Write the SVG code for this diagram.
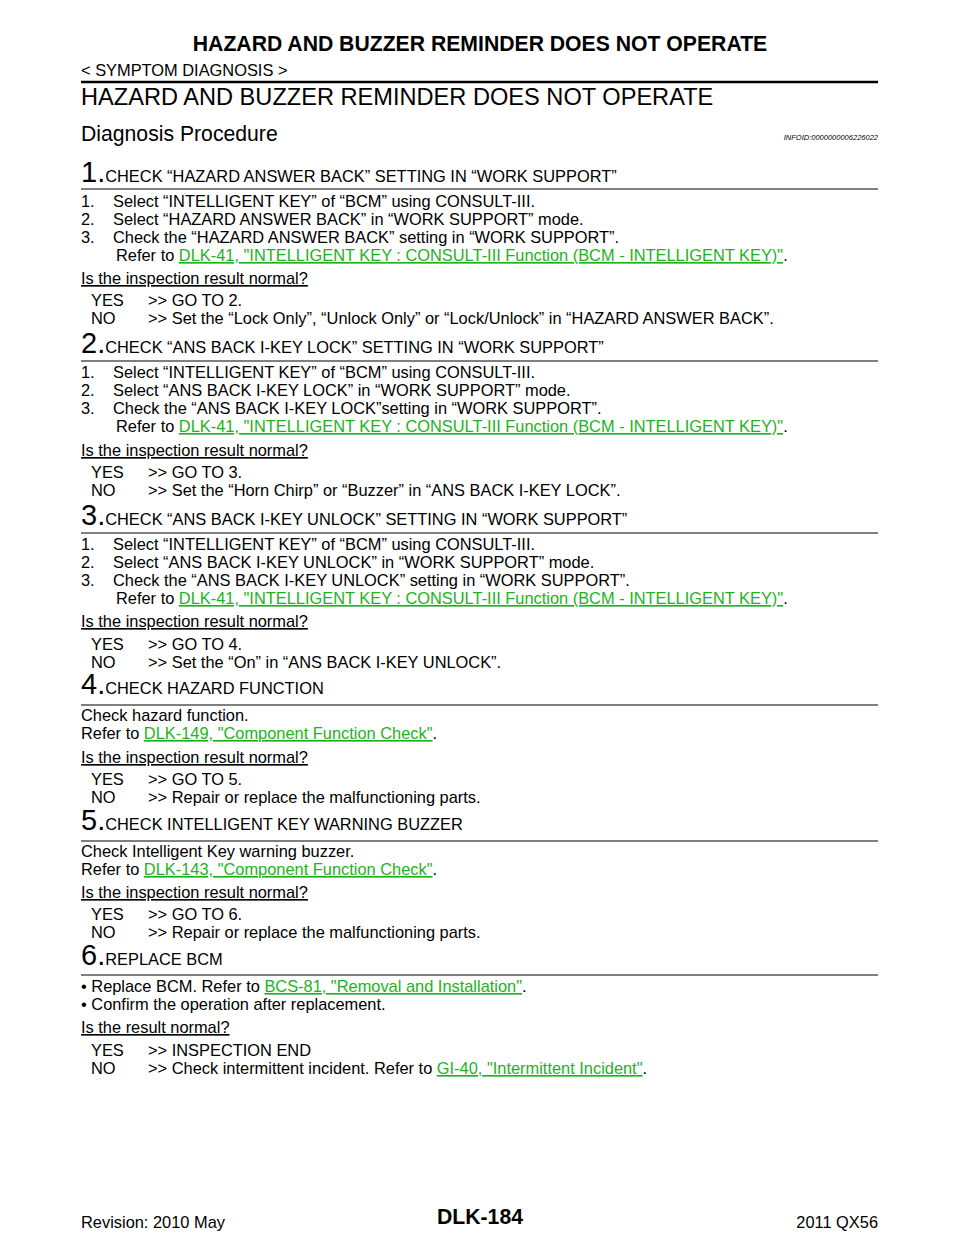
<svg xmlns="http://www.w3.org/2000/svg" width="960" height="1242" viewBox="0 0 960 1242">
<style>
text{font-family:"Liberation Sans",Arial,sans-serif;font-size:16.4px;fill:#000}
.b{font-weight:bold}
.n{font-size:29px}
.l{fill:#1db31d;text-decoration:underline}
.u{text-decoration:underline}
.r{stroke:#000;stroke-width:1.2}
</style>
<rect width="960" height="1242" fill="#fff"/>
<text x="480" y="51" text-anchor="middle" class="b" style="font-size:21.2px">HAZARD AND BUZZER REMINDER DOES NOT OPERATE</text>
<text x="81" y="76">&lt; SYMPTOM DIAGNOSIS &gt;</text>
<line x1="81" y1="82" x2="878" y2="82" stroke="#000" stroke-width="2.5"/>
<text x="81" y="105" style="font-size:23.6px">HAZARD AND BUZZER REMINDER DOES NOT OPERATE</text>
<text x="81" y="141" style="font-size:21.2px">Diagnosis Procedure</text>
<text x="878" y="140" text-anchor="end" style="font-size:7.5px;font-style:italic">INFOID:0000000006226022</text>

<g id="step1">
<text x="81" y="182"><tspan class="n">1.</tspan>CHECK “HAZARD ANSWER BACK” SETTING IN “WORK SUPPORT”</text>
<line class="r" x1="81" y1="189" x2="878" y2="189"/>
<text x="81" y="207">1.</text><text x="113" y="207">Select “INTELLIGENT KEY” of “BCM” using CONSULT-III.</text>
<text x="81" y="225">2.</text><text x="113" y="225">Select “HAZARD ANSWER BACK” in “WORK SUPPORT” mode.</text>
<text x="81" y="243">3.</text><text x="113" y="243">Check the “HAZARD ANSWER BACK” setting in “WORK SUPPORT”.</text>
<text x="116" y="261">Refer to <tspan class="l">DLK-41, "INTELLIGENT KEY : CONSULT-III Function (BCM - INTELLIGENT KEY)"</tspan>.</text>
<text x="81" y="284" class="u">Is the inspection result normal?</text>
<text x="91" y="306">YES</text><text x="148" y="306">&gt;&gt; GO TO 2.</text>
<text x="91" y="324">NO</text><text x="148" y="324">&gt;&gt; Set the “Lock Only”, “Unlock Only” or “Lock/Unlock” in “HAZARD ANSWER BACK”.</text>
</g>

<g id="step2">
<text x="81" y="353"><tspan class="n">2.</tspan>CHECK “ANS BACK I-KEY LOCK” SETTING IN “WORK SUPPORT”</text>
<line class="r" x1="81" y1="361" x2="878" y2="361"/>
<text x="81" y="378">1.</text><text x="113" y="378">Select “INTELLIGENT KEY” of “BCM” using CONSULT-III.</text>
<text x="81" y="396">2.</text><text x="113" y="396">Select “ANS BACK I-KEY LOCK” in “WORK SUPPORT” mode.</text>
<text x="81" y="414">3.</text><text x="113" y="414">Check the “ANS BACK I-KEY LOCK”setting in “WORK SUPPORT”.</text>
<text x="116" y="432">Refer to <tspan class="l">DLK-41, "INTELLIGENT KEY : CONSULT-III Function (BCM - INTELLIGENT KEY)"</tspan>.</text>
<text x="81" y="456" class="u">Is the inspection result normal?</text>
<text x="91" y="478">YES</text><text x="148" y="478">&gt;&gt; GO TO 3.</text>
<text x="91" y="496">NO</text><text x="148" y="496">&gt;&gt; Set the “Horn Chirp” or “Buzzer” in “ANS BACK I-KEY LOCK”.</text>
</g>

<g id="step3">
<text x="81" y="525"><tspan class="n">3.</tspan>CHECK “ANS BACK I-KEY UNLOCK” SETTING IN “WORK SUPPORT”</text>
<line class="r" x1="81" y1="533" x2="878" y2="533"/>
<text x="81" y="550">1.</text><text x="113" y="550">Select “INTELLIGENT KEY” of “BCM” using CONSULT-III.</text>
<text x="81" y="568">2.</text><text x="113" y="568">Select “ANS BACK I-KEY UNLOCK” in “WORK SUPPORT” mode.</text>
<text x="81" y="586">3.</text><text x="113" y="586">Check the “ANS BACK I-KEY UNLOCK” setting in “WORK SUPPORT”.</text>
<text x="116" y="604">Refer to <tspan class="l">DLK-41, "INTELLIGENT KEY : CONSULT-III Function (BCM - INTELLIGENT KEY)"</tspan>.</text>
<text x="81" y="627" class="u">Is the inspection result normal?</text>
<text x="91" y="650">YES</text><text x="148" y="650">&gt;&gt; GO TO 4.</text>
<text x="91" y="668">NO</text><text x="148" y="668">&gt;&gt; Set the “On” in “ANS BACK I-KEY UNLOCK”.</text>
</g>

<g id="step4">
<text x="81" y="694"><tspan class="n">4.</tspan>CHECK HAZARD FUNCTION</text>
<line class="r" x1="81" y1="705" x2="878" y2="705"/>
<text x="81" y="721">Check hazard function.</text>
<text x="81" y="739">Refer to <tspan class="l">DLK-149, "Component  Function  Check"</tspan>.</text>
<text x="81" y="763" class="u">Is the inspection result normal?</text>
<text x="91" y="785">YES</text><text x="148" y="785">&gt;&gt; GO TO 5.</text>
<text x="91" y="803">NO</text><text x="148" y="803">&gt;&gt; Repair or replace the malfunctioning parts.</text>
</g>

<g id="step5">
<text x="81" y="830"><tspan class="n">5.</tspan>CHECK INTELLIGENT KEY WARNING BUZZER</text>
<line class="r" x1="81" y1="841" x2="878" y2="841"/>
<text x="81" y="857">Check Intelligent Key warning buzzer.</text>
<text x="81" y="875">Refer to <tspan class="l">DLK-143, "Component  Function  Check"</tspan>.</text>
<text x="81" y="898" class="u">Is the inspection result normal?</text>
<text x="91" y="920">YES</text><text x="148" y="920">&gt;&gt; GO TO 6.</text>
<text x="91" y="938">NO</text><text x="148" y="938">&gt;&gt; Repair or replace the malfunctioning parts.</text>
</g>

<g id="step6">
<text x="81" y="965"><tspan class="n">6.</tspan>REPLACE BCM</text>
<line class="r" x1="81" y1="975" x2="878" y2="975"/>
<text x="81" y="992">• Replace BCM. Refer to <tspan class="l">BCS-81, "Removal and Installation"</tspan>.</text>
<text x="81" y="1010">• Confirm the operation after replacement.</text>
<text x="81" y="1033" class="u">Is the result normal?</text>
<text x="91" y="1056">YES</text><text x="148" y="1056">&gt;&gt; INSPECTION END</text>
<text x="91" y="1074">NO</text><text x="148" y="1074">&gt;&gt; Check intermittent incident. Refer to <tspan class="l">GI-40, "Intermittent Incident"</tspan>.</text>
</g>

<text x="81" y="1228">Revision: 2010 May</text>
<text x="480" y="1224" text-anchor="middle" class="b" style="font-size:21.2px">DLK-184</text>
<text x="878" y="1228" text-anchor="end">2011 QX56</text>
</svg>
